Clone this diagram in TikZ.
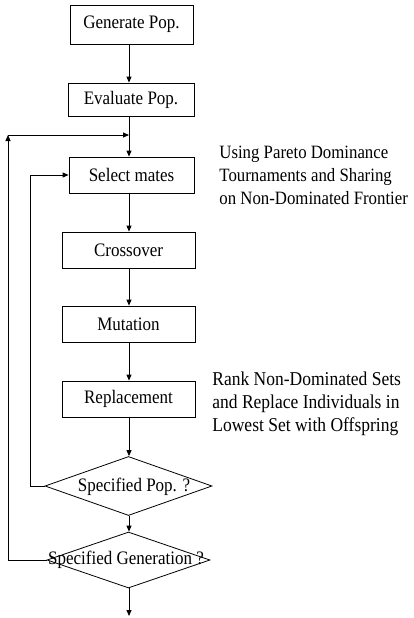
\documentclass[tikz,border=0pt]{standalone}
\usepackage{fontspec}
\setmainfont{Liberation Serif}
\usetikzlibrary{shapes.geometric,arrows.meta}
\newcommand{\vst}[1]{\scalebox{1}[1.12]{#1}}
\begin{document}
\begin{tikzpicture}[x=1pt,y=-1pt,
  line width=0.8pt,
  box/.style={draw, rectangle, inner sep=0pt, minimum height=36pt,
    font=\fontsize{17}{20}\selectfont},
  dia/.style={draw, diamond, inner sep=0pt},
  lbl/.style={inner sep=0pt, font=\fontsize{17}{20}\selectfont},
  note/.style={inner sep=0pt, anchor=west, align=left,
    font=\fontsize{17.5}{20.5}\selectfont},
  arr/.style={-{Triangle[length=6pt,width=5pt]}}]
\useasboundingbox (0,0) rectangle (414,618);
% column of the main flow
\coordinate (c) at (129,0);
% boxes
\node[box, minimum width=123pt, minimum height=39pt] (gen) at (131.5,24.5) {\vst{Generate Pop.}};
\node[box, minimum width=126pt, minimum height=33pt] (eval) at (131,99.5) {\vst{Evaluate Pop.}};
\node[box, minimum width=125pt] (sel) at (131.5,175) {\vst{Select mates}};
\node[box, minimum width=133pt] (cross) at (128.5,250) {\vst{Crossover}};
\node[box, minimum width=133pt] (mut) at (128.5,324) {\vst{Mutation}};
\node[box, minimum width=133pt] (rep) at (128.5,399) {\vst{Replacement}};
% decisions
\node[dia, minimum width=167pt, minimum height=59pt] (sp) at (128.5,486) {};
\node[lbl] (spt) at (134,487) {\vst{Specified Pop. ?}};
\node[dia, minimum width=163pt, minimum height=56pt] (sg) at (128.5,560) {};
\node[lbl] (sgt) at (126,560) {\vst{Specified Generation ?}};
% notes
\node[note, font=\fontsize{16.8}{20.5}\selectfont] (n1) at (219,177) {\vst{\begin{tabular}{@{}l@{}}Using Pareto Dominance\\Tournaments and Sharing\\on Non-Dominated Frontier\end{tabular}}};
\node[note] (n2) at (212,404) {\vst{\begin{tabular}{@{}l@{}}Rank Non-Dominated Sets\\and Replace Individuals in\\Lowest Set with Offspring\end{tabular}}};
% helper coordinates
\coordinate (join) at (129,135);
\coordinate (outer) at (8,135);
\coordinate (inner) at (30,175);
\coordinate (fin) at (129,616);
% main flow
\draw[arr] (gen.south -| c) -- (eval.north -| c);
\draw (eval.south -| c) -- (join);
\draw[arr] (join) -- (sel.north -| c);
\draw[arr] (sel.south -| c) -- (cross.north -| c);
\draw[arr] (cross.south -| c) -- (mut.north -| c);
\draw[arr] (mut.south -| c) -- (rep.north -| c);
\draw[arr] (rep.south -| c) -- (sp.north -| c);
\draw[arr] (sp.south -| c) -- (sg.north -| c);
\draw[arr] (sg.south -| c) -- (fin);
% loops
\draw[arr] (sp.west) -| (inner) -- (sel.west);
\draw[arr] (sg.west) -| (outer);
\draw[arr] (outer) -- (join);
\end{tikzpicture}
\end{document}
